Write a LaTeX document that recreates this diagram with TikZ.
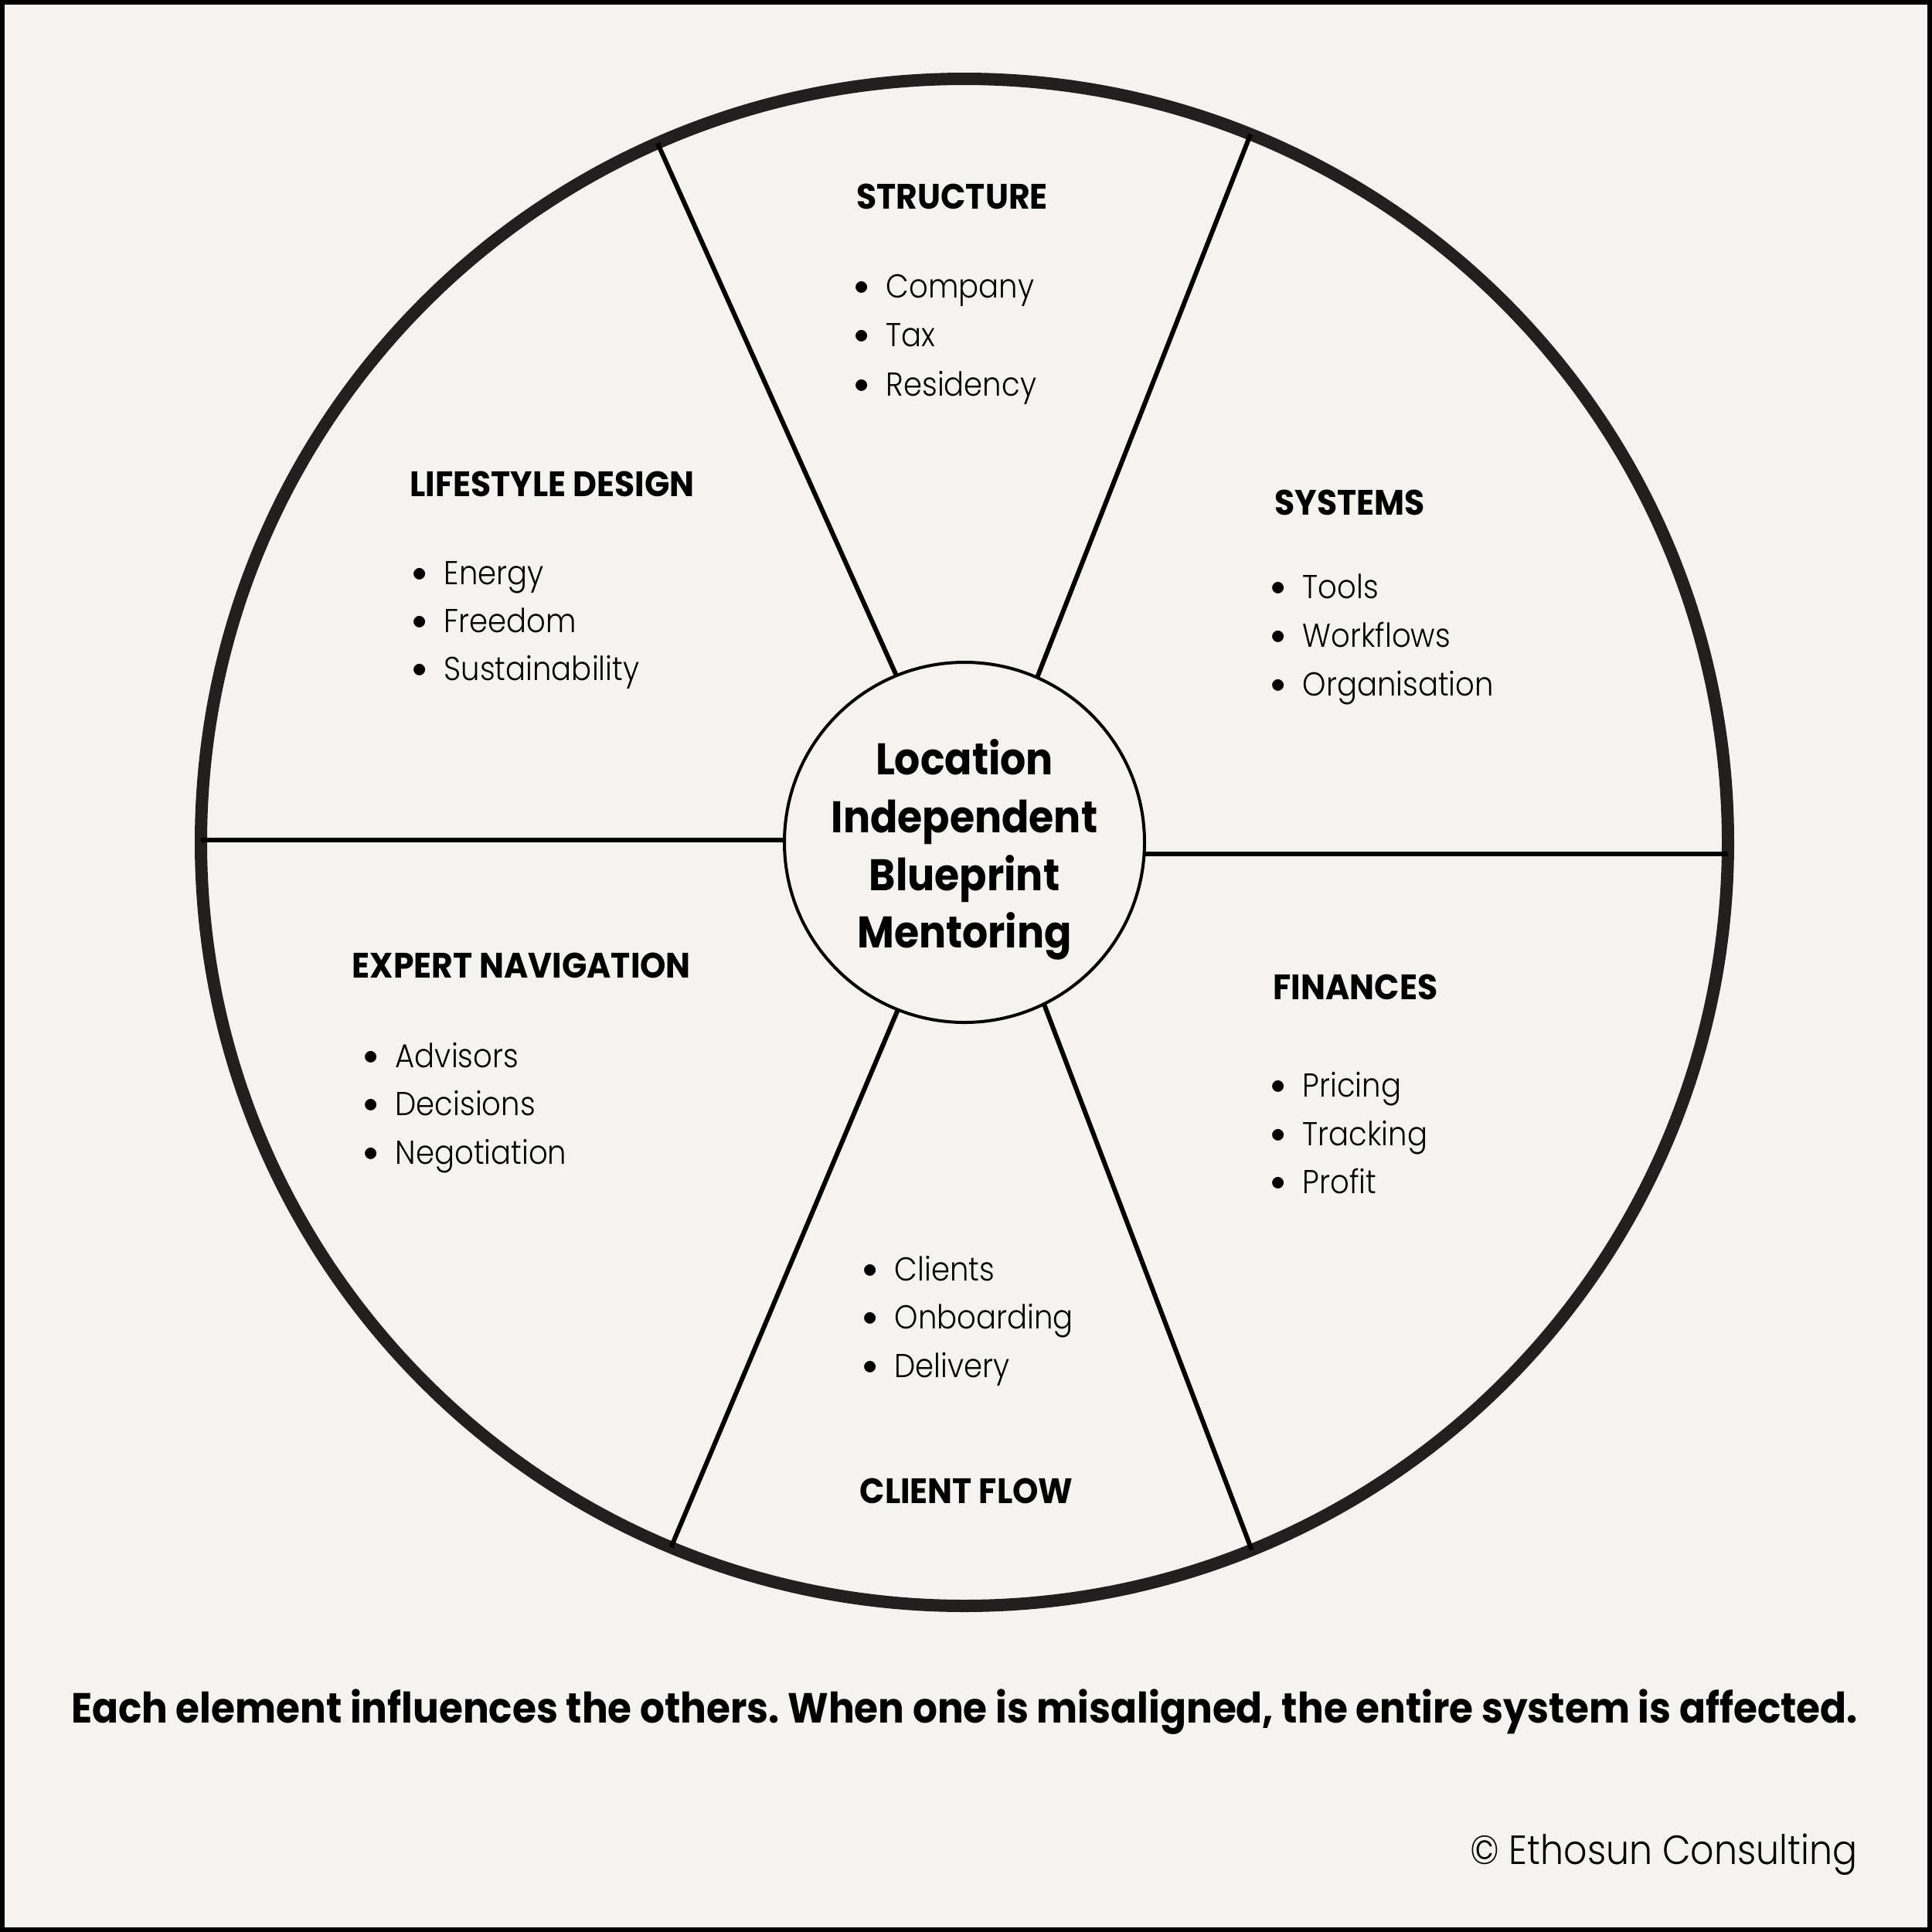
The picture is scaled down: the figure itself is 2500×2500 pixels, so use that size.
\documentclass[tikz,border=0pt]{standalone}
\usepackage{fontspec}
\setmainfont[FakeStretch=0.9]{Poppins Light}
\newfontfamily\headfont[FakeStretch=0.93]{Poppins Bold}
\newfontfamily\titlefont[FakeStretch=0.91]{Poppins Bold}
\newfontfamily\notefont[FakeStretch=0.92]{Poppins Bold}
\definecolor{paper}{RGB}{244,243,239}
\definecolor{ink}{RGB}{35,31,32}
\newcommand{\bul}[1]{\makebox[4.1mm][l]{\raisebox{1pt}{\fontsize{11}{11}\selectfont$\bullet$}}#1}
\frenchspacing

\begin{document}
\begin{tikzpicture}[x=0.1mm,y=-0.1mm]
\useasboundingbox (0,0) rectangle (2500,2500);
\fill[paper] (0,0) rectangle (2500,2500);
\draw[line width=0.6mm] (3,3) rectangle (2497,2497);
\tikzset{head/.style={anchor=base west,inner sep=0pt,font=\headfont\fontsize{13}{15}\selectfont},
  entry/.style={anchor=base west,inner sep=0pt,font=\fontsize{12.2}{14}\selectfont},
  spoke/.style={line width=0.6mm}}
\node[circle,draw,line width=0.4mm,minimum size=46.6mm,inner sep=0pt,outer sep=0pt] (hub) at (1248,1090) {};
\node[align=center,inner sep=0pt,yshift=-0.95mm,font=\titlefont\fontsize{16.3}{21.3}\selectfont] (title) at (hub.center) {Location\\Independent\\Blueprint\\Mentoring};
\node[circle,draw=ink,line width=1.6mm,minimum size=197.6mm,inner sep=0pt,outer sep=0pt] (rim) at (1248,1090) {};
% spoke ends on hub and rim
\coordinate (h1) at ([shift={(112.2:23.3mm)}]hub.center);
\coordinate (r1) at ([shift={(113.7:98.8mm)}]rim.center);
\coordinate (h2) at ([shift={(66.2:23.3mm)}]hub.center);
\coordinate (r2) at ([shift={(68:98.8mm)}]rim.center);
\coordinate (h3) at (1016,1087);
\coordinate (r3) at (260,1087);
\coordinate (h4) at (1481,1105);
\coordinate (r4) at (2236,1105);
\coordinate (h5) at ([shift={(248.3:23.3mm)}]hub.center);
\coordinate (r5) at ([shift={(247.4:98.8mm)}]rim.center);
\coordinate (h6) at ([shift={(296.2:23.3mm)}]hub.center);
\coordinate (r6) at ([shift={(292.1:98.8mm)}]rim.center);
\draw[spoke] (h1) -- (r1);
\draw[spoke] (h2) -- (r2);
\draw[spoke] (h3) -- (r3);
\draw[spoke] (h4) -- (r4);
\draw[spoke] (h5) -- (r5);
\draw[spoke] (h6) -- (r6);
% structure
\node[head] (st) at (1108,270) {STRUCTURE};
\node[entry] (st1) at (1105,385) {\bul{Company}};
\node[entry] (st2) at (1105,448) {\bul{Tax}};
\node[entry] (st3) at (1105,512) {\bul{Residency}};
% lifestyle design
\node[head] (ls) at (530,642) {LIFESTYLE DESIGN};
\node[entry] (ls1) at (533,756) {\bul{Energy}};
\node[entry] (ls2) at (533,818) {\bul{Freedom}};
\node[entry] (ls3) at (533,880) {\bul{Sustainability}};
% systems
\node[head] (sy) at (1649,666) {SYSTEMS};
\node[entry] (sy1) at (1644,774) {\bul{Tools}};
\node[entry] (sy2) at (1644,837) {\bul{Workflows}};
\node[entry] (sy3) at (1644,900) {\bul{Organisation}};
% expert navigation
\node[head] (ex) at (455,1265) {EXPERT NAVIGATION};
\node[entry] (ex1) at (470,1381) {\bul{Advisors}};
\node[entry] (ex2) at (470,1443) {\bul{Decisions}};
\node[entry] (ex3) at (470,1506) {\bul{Negotiation}};
% finances
\node[head] (fi) at (1647,1293) {FINANCES};
\node[entry] (fi1) at (1644,1419) {\bul{Pricing}};
\node[entry] (fi2) at (1644,1482) {\bul{Tracking}};
\node[entry] (fi3) at (1644,1544) {\bul{Profit}};
% client flow
\node[entry] (cf1) at (1116,1657) {\bul{Clients}};
\node[entry] (cf2) at (1116,1719) {\bul{Onboarding}};
\node[entry] (cf3) at (1116,1782) {\bul{Delivery}};
\node[head] (cf) at (1112,1945) {CLIENT FLOW};
% footer
\node[anchor=base,inner sep=0pt,font=\notefont\fontsize{15.5}{18}\selectfont] (note) at (1248,2229) {Each element influences the others. When one is misaligned, the entire system is affected.};
\node[anchor=base east,inner sep=0pt,font=\fontsize{15}{18}\selectfont] (credit) at (2404,2412) {© Ethosun Consulting};
\end{tikzpicture}
\end{document}
